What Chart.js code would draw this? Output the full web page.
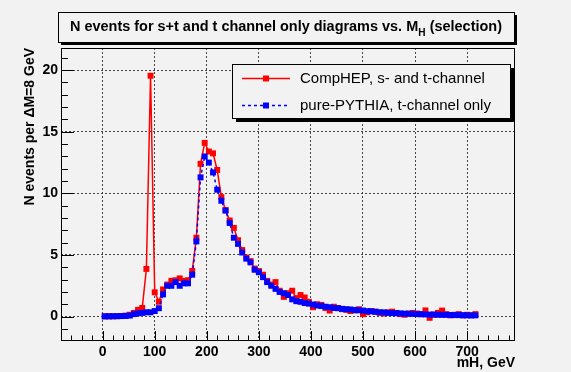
<!DOCTYPE html>
<html><head><meta charset="utf-8">
<script src="https://cdn.jsdelivr.net/npm/chart.js@4/dist/chart.umd.min.js"></script>
<style>html,body{margin:0;padding:0;background:#f2f2f2;}canvas{display:block;}</style>
</head><body>
<canvas id="c" width="571" height="372"></canvas>
<script>
const TITLE_MAIN = "N events for s+t and t channel only diagrams vs. M";
const TITLE_SUB = "H";
const TITLE_END = " (selection)";
const X_TITLE = "mH, GeV";
const Y_TITLE = "N events per \u0394M=8 GeV";
const SERIES_LABELS = ["CompHEP, s- and t-channel", "pure-PYTHIA, t-channel only"];

const MASS_BINS = [4,12,20,28,36,44,52,60,68,76,84,92,100,108,116,124,132,140,148,156,164,172,180,188,196,204,212,220,228,236,244,252,260,268,276,284,292,300,308,316,324,332,340,348,356,364,372,380,388,396,404,412,420,428,436,444,452,460,468,476,484,492,500,508,516,524,532,540,548,556,564,572,580,588,596,604,612,620,628,636,644,652,660,668,676,684,692,700,708,716];

const COMPHEP = [0.02,0.03,0.02,0.04,0.05,0.08,0.15,0.3,0.55,0.7,3.87,19.55,1.97,1.2,2.2,2.6,2.9,2.95,3.1,2.9,2.95,3.7,6.4,12.4,14.1,13.4,13.25,11.9,9.7,8.65,7.8,7.2,6.2,5.4,4.8,4.5,3.9,3.7,3.4,2.9,2.6,2.8,2.1,1.6,1.9,2.1,1.5,1.75,1.55,1.2,0.76,1.0,0.95,0.7,0.49,0.8,0.7,0.6,0.55,0.45,0.5,0.6,0.2,0.35,0.45,0.4,0.3,0.25,0.35,0.4,0.3,0.2,0.15,0.25,0.3,0.25,0.2,0.5,-0.1,0.15,0.3,0.49,0.2,0.1,0.15,0.2,0.1,0.15,0.1,0.2];

const PYTHIA = [0.02,0.02,0.03,0.03,0.04,0.05,0.08,0.2,0.27,0.3,0.35,0.35,0.45,0.68,1.8,2.5,2.5,2.8,2.5,2.7,2.7,3.4,6.1,11.3,13.0,12.5,11.7,10.3,9.4,8.6,7.6,6.4,5.9,5.2,4.7,4.4,3.8,3.6,3.2,2.8,2.5,2.25,2.0,1.9,1.75,1.4,1.25,1.2,1.1,1.05,0.98,0.9,0.86,0.8,0.76,0.7,0.68,0.63,0.6,0.58,0.53,0.51,0.49,0.44,0.42,0.39,0.35,0.34,0.3,0.29,0.27,0.26,0.24,0.23,0.22,0.2,0.19,0.18,0.16,0.17,0.15,0.14,0.14,0.13,0.12,0.12,0.11,0.1,0.1,0.1];

const X_TICKS = [0,100,200,300,400,500,600,700];
const Y_TICKS = [0,5,10,15,20];
const X_RANGE = [-80, 792];
const Y_RANGE = [-1.9, 21.8];

const BG = '#f2f2f2';
const FONT = '"Liberation Sans", Arial, Helvetica, sans-serif';
Chart.defaults.font.family = FONT;
Chart.defaults.color = '#000';

function pts(vals) { return MASS_BINS.map((m, i) => ({x: m, y: vals[i]})); }

const rootPlugin = {
  id: 'rootStyle',
  beforeDraw(chart) {
    const ctx = chart.ctx;
    ctx.save(); ctx.fillStyle = BG; ctx.fillRect(0, 0, chart.width, chart.height); ctx.restore();
  },
  afterDatasetsDraw(chart) {
    const {ctx, chartArea: a, scales: {x, y}} = chart;
    ctx.save();
    ctx.strokeStyle = '#000'; ctx.lineWidth = 1;
    // ticks (inside frame, ROOT style)
    ctx.beginPath();
    for (let v = -1; v <= 21; v++) {
      const py = Math.round(y.getPixelForValue(v)) + 0.5;
      const len = (v % 5 === 0) ? 13 : 7;
      ctx.moveTo(a.left, py); ctx.lineTo(a.left + len, py);
    }
    for (let v = -80; v <= 780; v += 20) {
      const px = Math.round(x.getPixelForValue(v)) + 0.5;
      const len = (v % 100 === 0) ? 9 : 4.5;
      ctx.moveTo(px, a.bottom); ctx.lineTo(px, a.bottom - len);
    }
    ctx.stroke();
    // frame
    ctx.strokeRect(a.left + 0.5, a.top + 0.5, a.right - a.left - 1, a.bottom - a.top);
    ctx.restore();
  },
  afterDraw(chart) {
    const ctx = chart.ctx;
    ctx.save();
    // title box
    const tb = {x: 58, y: 12, w: 456, h: 30};
    ctx.fillStyle = '#000';
    ctx.fillRect(tb.x + 3, tb.y + 3, tb.w, tb.h);
    ctx.fillStyle = BG;
    ctx.fillRect(tb.x, tb.y, tb.w, tb.h);
    ctx.strokeStyle = '#000'; ctx.lineWidth = 1;
    ctx.strokeRect(tb.x + 0.5, tb.y + 0.5, tb.w, tb.h);
    // title text fitted to width
    ctx.font = 'bold 100px ' + FONT;
    const w1 = ctx.measureText(TITLE_MAIN).width, w3 = ctx.measureText(TITLE_END).width;
    ctx.font = 'bold 70px ' + FONT;
    const w2 = ctx.measureText(TITLE_SUB).width;
    const fs = 432 * 100 / (w1 + w2 + w3);
    const total = (w1 + w2 + w3) * fs / 100;
    let tx = 286 - total / 2;
    const base = 31;
    ctx.fillStyle = '#000'; ctx.textBaseline = 'alphabetic'; ctx.textAlign = 'left';
    ctx.font = 'bold ' + fs + 'px ' + FONT;
    ctx.fillText(TITLE_MAIN, tx, base); tx += w1 * fs / 100;
    ctx.font = 'bold ' + (fs * 0.7) + 'px ' + FONT;
    ctx.fillText(TITLE_SUB, tx, base + 5); tx += w2 * fs / 100;
    ctx.font = 'bold ' + fs + 'px ' + FONT;
    ctx.fillText(TITLE_END, tx, base);
    // legend box
    const lb = {x: 232, y: 64, w: 278, h: 54};
    ctx.fillStyle = '#000';
    ctx.fillRect(lb.x + 4, lb.y + 4, lb.w, lb.h);
    ctx.fillStyle = BG;
    ctx.fillRect(lb.x, lb.y, lb.w, lb.h);
    ctx.strokeRect(lb.x + 0.5, lb.y + 0.5, lb.w, lb.h);
    const rows = [78.5, 105.5];
    chart.data.datasets.forEach((ds, i) => {
      const ry = rows[i];
      ctx.save();
      ctx.strokeStyle = ds.borderColor; ctx.lineWidth = ds.borderWidth;
      ctx.setLineDash(ds.borderDash || []);
      ctx.beginPath(); ctx.moveTo(242, ry); ctx.lineTo(290, ry); ctx.stroke();
      ctx.setLineDash([]);
      ctx.fillStyle = ds.pointBackgroundColor;
      const s = ds.pointRadius * Math.SQRT1_2;
      ctx.fillRect(266 - s, ry - s, 2 * s, 2 * s);
      ctx.restore();
      ctx.fillStyle = '#000';
      ctx.font = '15px ' + FONT; ctx.textBaseline = 'middle'; ctx.textAlign = 'left';
      ctx.fillText(ds.label, 300, ry);
    });
    ctx.restore();
  }
};

new Chart(document.getElementById('c'), {
  type: 'line',
  data: {
    datasets: [
      {label: SERIES_LABELS[0], data: pts(COMPHEP), borderColor: '#ff0000', backgroundColor: '#ff0000',
       pointBackgroundColor: '#ff0000', pointBorderColor: '#ff0000', borderWidth: 1.5, pointStyle: 'rect',
       pointRadius: 4.2, pointBorderWidth: 0, tension: 0, order: 2},
      {label: SERIES_LABELS[1], data: pts(PYTHIA), borderColor: '#0000ff', backgroundColor: '#0000ff',
       pointBackgroundColor: '#0000ff', pointBorderColor: '#0000ff', borderWidth: 1.5, borderDash: [3, 3],
       pointStyle: 'rect', pointRadius: 4.2, pointBorderWidth: 0, tension: 0, order: 1}
    ]
  },
  options: {
    responsive: false, animation: false, devicePixelRatio: 1,
    layout: {padding: {top: 48, right: 56, left: 0, bottom: 0}},
    plugins: {legend: {display: false}, tooltip: {enabled: false}, title: {display: false}},
    scales: {
      x: {
        type: 'linear', min: X_RANGE[0], max: X_RANGE[1],
        afterBuildTicks: s => { s.ticks = X_TICKS.map(v => ({value: v})); },
        afterFit: s => { s.height = 32; },
        ticks: {font: {size: 14, weight: 'bold'}, color: '#000', padding: 4, maxRotation: 0, autoSkip: false},
        grid: {color: 'rgba(40,40,40,0.85)', lineWidth: 1, drawTicks: false},
        border: {display: false, dash: [2, 2]},
        title: {display: true, text: X_TITLE, align: 'end', font: {size: 14, weight: 'bold'}, color: '#000', padding: {top: 0, bottom: 0.6}}
      },
      y: {
        type: 'linear', min: Y_RANGE[0], max: Y_RANGE[1],
        afterBuildTicks: s => { s.ticks = Y_TICKS.map(v => ({value: v})); },
        afterFit: s => { s.width = 61; },
        ticks: {font: {size: 14, weight: 'bold'}, color: '#000', padding: 3, autoSkip: false},
        grid: {color: 'rgba(40,40,40,0.85)', lineWidth: 1, drawTicks: false},
        border: {display: false, dash: [2, 2]},
        title: {display: true, text: Y_TITLE, align: 'end', font: {size: 14, weight: 'bold'}, color: '#000', padding: {top: 21.6, bottom: 0}}
      }
    }
  },
  plugins: [rootPlugin]
});
</script>
</body></html>
